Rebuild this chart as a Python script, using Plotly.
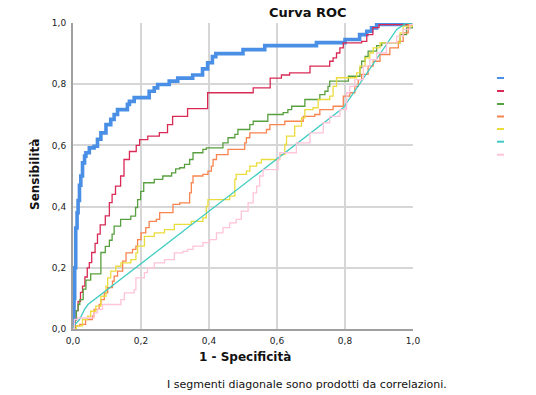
import plotly.graph_objects as go

# ROC curve coordinates (1 - specificity, sensitivity) for each test variable
fpr_blue = [0, 0.003, 0.005, 0.008, 0.012, 0.015, 0.019, 0.023, 0.028, 0.034, 0.038, 0.048, 0.062, 0.072,
            0.082, 0.097, 0.111, 0.121, 0.131, 0.16, 0.166, 0.18, 0.224, 0.239, 0.249, 0.283, 0.308, 0.352,
            0.381, 0.396, 0.41, 0.42, 0.5, 0.564, 0.716, 0.8, 0.843, 0.864, 0.878, 0.893, 0.98, 1.0]
tpr_blue = [0, 0.1, 0.2, 0.33, 0.38, 0.42, 0.47, 0.5, 0.543, 0.565, 0.576, 0.592, 0.597, 0.62,
            0.641, 0.668, 0.685, 0.701, 0.717, 0.734, 0.744, 0.756, 0.777, 0.788, 0.799, 0.81, 0.82, 0.83,
            0.85, 0.87, 0.89, 0.9, 0.913, 0.926, 0.936, 0.946, 0.962, 0.973, 0.984, 0.995, 0.998, 1.0]

fpr_red = [0, 0.005, 0.01, 0.015, 0.022, 0.028, 0.035, 0.042, 0.048, 0.055, 0.065, 0.072, 0.08, 0.095,
           0.107, 0.115, 0.125, 0.14, 0.15, 0.166, 0.186, 0.196, 0.22, 0.254, 0.278, 0.293, 0.337, 0.396,
           0.53, 0.58, 0.613, 0.637, 0.697, 0.755, 0.765, 0.775, 0.785, 0.795, 0.849, 0.864, 0.882, 0.9, 1.0]
tpr_red = [0, 0.03, 0.06, 0.09, 0.12, 0.14, 0.17, 0.2, 0.217, 0.25, 0.28, 0.31, 0.34, 0.37,
           0.413, 0.44, 0.467, 0.5, 0.554, 0.58, 0.6, 0.619, 0.63, 0.642, 0.668, 0.695, 0.72, 0.772,
           0.788, 0.82, 0.83, 0.837, 0.859, 0.875, 0.886, 0.902, 0.919, 0.935, 0.94, 0.962, 0.985, 0.995, 1.0]

fpr_green = [0, 0.005, 0.01, 0.015, 0.02, 0.03, 0.038, 0.052, 0.082, 0.095, 0.107, 0.115, 0.121, 0.14,
             0.17, 0.184, 0.19, 0.199, 0.208, 0.239, 0.264, 0.29, 0.302, 0.314, 0.328, 0.343, 0.353, 0.382,
             0.392, 0.441, 0.456, 0.476, 0.485, 0.52, 0.53, 0.573, 0.618, 0.632, 0.643, 0.682, 0.726, 0.741,
             0.75, 0.755, 0.81, 0.844, 0.849, 0.859, 0.868, 0.893, 0.908, 0.962, 0.981, 1.0]
tpr_green = [0, 0.03, 0.06, 0.08, 0.096, 0.13, 0.16, 0.18, 0.25, 0.27, 0.29, 0.31, 0.336, 0.358,
             0.369, 0.397, 0.423, 0.45, 0.478, 0.489, 0.5, 0.51, 0.523, 0.527, 0.538, 0.554, 0.576, 0.587,
             0.592, 0.608, 0.625, 0.636, 0.652, 0.668, 0.679, 0.701, 0.707, 0.717, 0.728, 0.75, 0.766, 0.777,
             0.793, 0.81, 0.826, 0.854, 0.875, 0.891, 0.908, 0.926, 0.935, 0.962, 0.984, 1.0]

fpr_orange = [0, 0.004, 0.02, 0.037, 0.057, 0.062, 0.077, 0.082, 0.092, 0.102, 0.116, 0.121, 0.131, 0.146,
              0.156, 0.175, 0.185, 0.19, 0.2, 0.214, 0.224, 0.245, 0.255, 0.294, 0.314, 0.343, 0.348, 0.353,
              0.382, 0.397, 0.407, 0.412, 0.422, 0.456, 0.505, 0.51, 0.52, 0.569, 0.579, 0.623, 0.677, 0.711,
              0.726, 0.765, 0.795, 0.814, 0.829, 0.839, 0.849, 0.868, 0.883, 0.903, 0.932, 0.957, 0.971,
              0.986, 1.0]
tpr_orange = [0, 0.01, 0.015, 0.031, 0.042, 0.064, 0.08, 0.096, 0.118, 0.135, 0.156, 0.173, 0.189, 0.222,
              0.249, 0.26, 0.271, 0.292, 0.314, 0.331, 0.352, 0.358, 0.38, 0.407, 0.412, 0.445, 0.478, 0.5,
              0.505, 0.516, 0.532, 0.554, 0.57, 0.587, 0.608, 0.625, 0.641, 0.652, 0.668, 0.679, 0.695, 0.701,
              0.717, 0.728, 0.761, 0.772, 0.793, 0.815, 0.832, 0.859, 0.875, 0.897, 0.919, 0.94, 0.968,
              0.995, 1.0]

fpr_yellow = [0, 0.01, 0.028, 0.043, 0.052, 0.067, 0.082, 0.097, 0.102, 0.111, 0.126, 0.141, 0.17, 0.185,
              0.19, 0.21, 0.239, 0.269, 0.298, 0.348, 0.382, 0.392, 0.397, 0.461, 0.476, 0.48, 0.51, 0.52,
              0.54, 0.554, 0.608, 0.623, 0.628, 0.652, 0.672, 0.682, 0.706, 0.721, 0.755, 0.765, 0.775, 0.834,
              0.844, 0.859, 0.873, 0.883, 0.903, 0.962, 0.971, 1.0]
tpr_yellow = [0, 0.01, 0.031, 0.042, 0.058, 0.075, 0.107, 0.14, 0.167, 0.189, 0.205, 0.216, 0.227, 0.249,
              0.271, 0.303, 0.314, 0.325, 0.342, 0.352, 0.363, 0.401, 0.423, 0.434, 0.489, 0.505, 0.516, 0.532,
              0.543, 0.554, 0.57, 0.603, 0.63, 0.663, 0.69, 0.717, 0.723, 0.75, 0.761, 0.793, 0.821, 0.837,
              0.859, 0.886, 0.902, 0.919, 0.935, 0.968, 0.99, 1.0]

fpr_teal = [0, 0.002, 0.019, 0.034, 0.044, 0.795, 0.952, 0.981, 1.0]
tpr_teal = [0, 0.01, 0.031, 0.064, 0.08, 0.723, 0.979, 1.0, 1.0]

fpr_pink = [0, 0.004, 0.013, 0.062, 0.072, 0.087, 0.141, 0.151, 0.18, 0.185, 0.21, 0.219, 0.239, 0.269,
            0.298, 0.323, 0.337, 0.353, 0.382, 0.402, 0.422, 0.441, 0.461, 0.48, 0.495, 0.515, 0.53, 0.54,
            0.549, 0.559, 0.603, 0.608, 0.657, 0.697, 0.736, 0.755, 0.785, 0.805, 0.814, 0.829, 0.854, 0.873,
            0.893, 0.922, 0.952, 0.971, 0.991, 1.0]
tpr_pink = [0, 0.031, 0.036, 0.053, 0.064, 0.08, 0.096, 0.118, 0.129, 0.167, 0.184, 0.2, 0.216, 0.227,
            0.249, 0.254, 0.26, 0.271, 0.282, 0.292, 0.314, 0.331, 0.347, 0.358, 0.385, 0.412, 0.445, 0.467,
            0.5, 0.521, 0.554, 0.576, 0.608, 0.641, 0.674, 0.695, 0.717, 0.772, 0.793, 0.815, 0.859, 0.88,
            0.902, 0.935, 0.957, 0.979, 0.995, 1.0]

tick_vals = [0, 0.2, 0.4, 0.6, 0.8, 1.0]

series = [
    (fpr_blue, tpr_blue, "#4a8fe6", 3.6, "hv"),
    (fpr_red, tpr_red, "#d92a55", 1.3, "hv"),
    (fpr_green, tpr_green, "#58a03f", 1.3, "hv"),
    (fpr_orange, tpr_orange, "#f8844f", 1.3, "hv"),
    (fpr_yellow, tpr_yellow, "#eadc3c", 1.3, "hv"),
    (fpr_teal, tpr_teal, "#3fcbc1", 1.3, "linear"),
    (fpr_pink, tpr_pink, "#ffc3da", 1.3, "hv"),
]

FONT = "DejaVu Sans"

fig = go.Figure()
for xs, ys, color, width, shape in series:
    fig.add_trace(go.Scatter(x=xs, y=ys, mode="lines",
                             line=dict(color=color, width=width, shape=shape),
                             showlegend=False, hoverinfo="skip"))

L, R, T, B = 73, 123, 23, 66
W, H = 536, 395
plot_w, plot_h = W - L - R, H - T - B


def px_x(px):
    return (px - L) / plot_w


def px_y(py):
    return (T + plot_h - py) / plot_h


axis_common = dict(range=[0, 1], tickvals=tick_vals, tickformat=".1f",
                   showgrid=True, gridcolor="#d6d6d6", gridwidth=2,
                   zeroline=False, showline=True, linecolor="#a0a0a0", linewidth=2,
                   ticks="", tickfont=dict(family=FONT, size=9, color="#222222"))

fig.update_layout(
    width=W, height=H, autosize=False,
    margin=dict(l=L, r=R, t=T, b=B),
    paper_bgcolor="white", plot_bgcolor="white",
    separators=",.",
    xaxis=dict(**axis_common, ticklabelstandoff=2),
    yaxis=dict(**axis_common, ticklabelstandoff=3),
)

# title, axis titles and footnote
text_style = dict(xref="paper", yref="paper", showarrow=False, yanchor="middle")
fig.add_annotation(text="<b>Curva ROC</b>", x=px_x(308), y=px_y(13), xanchor="center",
                   font=dict(family=FONT, size=13, color="#111111"), **text_style)
fig.add_annotation(text="<b>1 - Specificità</b>", x=px_x(245), y=px_y(357), xanchor="center",
                   font=dict(family=FONT, size=12, color="#111111"), **text_style)
fig.add_annotation(text="<b>Sensibilità</b>", x=px_x(35), y=px_y(175), xanchor="center",
                   textangle=-90, font=dict(family=FONT, size=12, color="#111111"), **text_style)
fig.add_annotation(text="I segmenti diagonale sono prodotti da correlazioni.",
                   x=px_x(165), y=px_y(384), xanchor="left",
                   font=dict(family=FONT, size=11, color="#111111"), **text_style)

# legend key swatches (one short line per curve)
key_y = [78, 91, 104, 116.5, 129, 141.7, 154.7]
for (_, _, color, _, _), py in zip(series, key_y):
    fig.add_shape(type="line", xref="paper", yref="paper",
                  x0=px_x(497), x1=px_x(504), y0=px_y(py), y1=px_y(py),
                  line=dict(color=color, width=2))

fig.write_html("out.html")
